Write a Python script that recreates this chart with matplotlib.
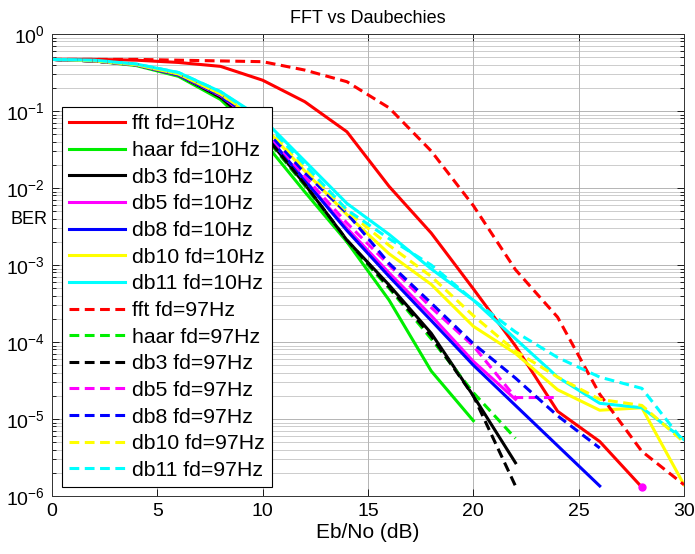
import numpy as np
import matplotlib
matplotlib.use("Agg")
import matplotlib.pyplot as plt
from matplotlib.ticker import FixedLocator, LogLocator, NullFormatter, NullLocator

plt.rcParams['font.family'] = ['Liberation Sans', 'DejaVu Sans']
plt.rcParams['mathtext.fontset'] = 'custom'
plt.rcParams['mathtext.rm'] = 'Liberation Sans'
plt.rcParams['mathtext.it'] = 'Liberation Sans:italic'
plt.rcParams['mathtext.bf'] = 'Liberation Sans:bold'

nan = np.nan
ebno = [0, 2, 4, 6, 8, 10, 12, 14, 16, 18, 20, 22, 24, 26, 28, 30]

# BER, fd = 10 Hz
fft_10 = [0.468, 0.468, 0.457, 0.427, 0.380, 0.251, 0.132, 0.0537, 0.0105, 2.6e-3, 4.9e-4, 8.9e-5, 1.26e-5, 5.1e-6, 1.3e-6, nan]
haar_10 = [0.468, 0.447, 0.389, 0.282, 0.141, 0.0417, 8.9e-3, 2.0e-3, 3.5e-4, 4.2e-5, 9.5e-6, nan, nan, nan, nan, nan]
db3_10 = [0.468, 0.447, 0.398, 0.295, 0.151, 0.0525, 0.0112, 2.1e-3, 5.5e-4, 1.3e-4, 2.0e-5, 2.7e-6, nan, nan, nan, nan]
db5_10 = [0.468, 0.447, 0.398, 0.295, 0.158, 0.0562, 0.0126, 3.0e-3, 7.9e-4, 2.2e-4, 5.6e-5, 1.8e-5, nan, nan, nan, nan]
db8_10 = [0.468, 0.447, 0.398, 0.295, 0.158, 0.0562, 0.0126, 2.8e-3, 7.1e-4, 1.9e-4, 5.0e-5, 1.5e-5, 4.5e-6, 1.35e-6, nan, nan]
db10_10 = [0.468, 0.447, 0.398, 0.302, 0.166, 0.0661, 0.0166, 4.5e-3, 1.4e-3, 5.6e-4, 1.6e-4, 7.1e-5, 2.4e-5, 1.3e-5, 1.4e-5, 1.4e-6]
db11_10 = [0.468, 0.457, 0.407, 0.316, 0.178, 0.0794, 0.0224, 6.3e-3, 2.5e-3, 8.9e-4, 3.5e-4, 1.1e-4, 3.5e-5, 1.6e-5, 1.4e-5, 5.4e-6]

# fd = 97 Hz
fft_97 = [0.468, 0.468, 0.468, 0.457, 0.447, 0.437, 0.34, 0.240, 0.110, 0.0302, 5.9e-3, 8.7e-4, 2.1e-4, 2.1e-5, 3.8e-6, 1.4e-6]
haar_97 = [0.468, 0.447, 0.398, 0.295, 0.151, 0.0501, 0.0107, 2.0e-3, 5.0e-4, 1.1e-4, 2.2e-5, 5.6e-6, nan, nan, nan, nan]
db3_97 = [0.468, 0.447, 0.398, 0.295, 0.151, 0.0525, 0.0112, 2.1e-3, 5.2e-4, 1.2e-4, 2.0e-5, 1.35e-6, nan, nan, nan, nan]
db5_97 = [0.468, 0.447, 0.398, 0.295, 0.158, 0.0603, 0.0141, 3.5e-3, 1.0e-3, 2.8e-4, 8.9e-5, 1.9e-5, 1.9e-5, nan, nan, nan]
db8_97 = [0.468, 0.447, 0.398, 0.295, 0.162, 0.0631, 0.0158, 4.7e-3, 1.05e-3, 3.2e-4, 9.5e-5, 3.4e-5, 1.1e-5, 4.2e-6, nan, nan]
db10_97 = [0.468, 0.447, 0.398, 0.302, 0.166, 0.0708, 0.0178, 5.0e-3, 1.8e-3, 7.1e-4, 2.2e-4, 7.6e-5, 3.5e-5, 1.8e-5, 1.5e-5, 5.0e-6]
db11_97 = [0.468, 0.457, 0.407, 0.316, 0.178, 0.0759, 0.0200, 5.2e-3, 2.2e-3, 1.0e-3, 3.5e-4, 1.35e-4, 6.3e-5, 3.5e-5, 2.5e-5, 5.0e-6]

# lone db5 point near the bottom
db5_dot_x = [28]
db5_dot_y = [1.3e-6]

names = ['fft', 'haar', 'db3', 'db5', 'db8', 'db10', 'db11']
colors = ['#ff0000', '#00ee00', '#000000', '#ff00ff', '#0000ff', '#ffff00', '#00ffff']
series_10 = [fft_10, haar_10, db3_10, db5_10, db8_10, db10_10, db11_10]
series_97 = [fft_97, haar_97, db3_97, db5_97, db8_97, db10_97, db11_97]

y_ticks = [1e-6, 1e-5, 1e-4, 1e-3, 1e-2, 1e-1, 1]
x_ticks = [0, 5, 10, 15, 20, 25, 30]

fig = plt.figure(figsize=(6.95, 5.54), dpi=100)
ax = fig.add_axes([52 / 695, 58 / 554, 632 / 695, 462 / 554])

lw = 2.2
for name, c, y in zip(names, colors, series_10):
    ax.semilogy(ebno, y, color=c, lw=lw, ls='-', label=f'{name} fd=10Hz')
for name, c, y in zip(names, colors, series_97):
    ax.semilogy(ebno, y, color=c, lw=lw, ls=(0, (3.2, 1.8)), label=f'{name} fd=97Hz')
ax.plot(db5_dot_x, db5_dot_y, 'o', color='#ff00ff', ms=5, zorder=5)

ax.set_xlim(0, 30)
ax.set_ylim(1e-6, 1)
ax.set_xticks(x_ticks)
ax.xaxis.set_minor_locator(NullLocator())
ax.yaxis.set_major_locator(FixedLocator(y_ticks))
ax.yaxis.set_minor_locator(LogLocator(base=10, subs=np.arange(2, 10), numticks=20))
ax.yaxis.set_minor_formatter(NullFormatter())

ax.grid(True, which='major', color='#a8a8a8', lw=0.6, ls='-')
ax.grid(True, which='minor', axis='y', color='#b8b8b8', lw=0.5, ls='-')
ax.set_axisbelow(True)

ax.tick_params(which='both', direction='in', top=True, right=True, labelsize=14, width=0.6)
ax.tick_params(which='major', length=5, pad=5)
ax.tick_params(which='minor', length=3)
for s in ax.spines.values():
    s.set_linewidth(0.7)
    s.set_color('#333333')

ax.set_title('FFT vs Daubechies', fontsize=13, pad=8)
ax.set_xlabel('Eb/No (dB)', fontsize=15, labelpad=2)
fig.text(47 / 695, 1 - 219 / 554, 'BER', fontsize=13, ha='right', va='center')

leg = ax.legend(loc='upper left', bbox_to_anchor=(0.0153, 0.842), fontsize=15.3,
                frameon=True, fancybox=False, framealpha=1, edgecolor='black',
                handlelength=2.65, handletextpad=0.3, labelspacing=0.36,
                borderpad=0.35, borderaxespad=0)
leg.get_frame().set_linewidth(0.8)

fig.savefig('out.png', dpi=100)
